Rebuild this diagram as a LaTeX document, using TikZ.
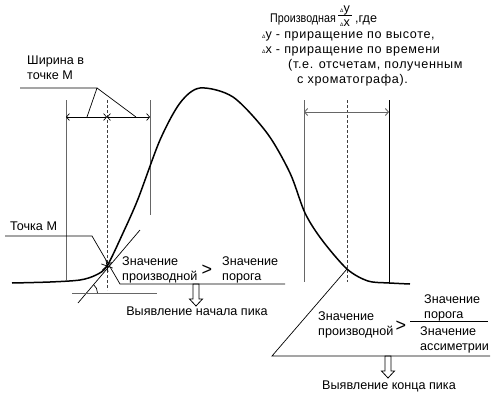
\documentclass[tikz,border=0pt]{standalone}
\usepackage{fontspec}
\setmainfont{Liberation Sans}
\usetikzlibrary{arrows.meta,positioning}

\begin{document}
\begin{tikzpicture}[x=1pt,y=-1pt,>={Straight Barb[length=3pt,width=7pt]},
  every node/.style={inner sep=0pt,font=\fontsize{12.6}{15}\selectfont},
  txt/.style={anchor=north west,align=left},
  note/.style={anchor=base west,font=\fontsize{12.6}{15}\selectfont\addfontfeature{LetterSpace=5}},
  guide/.style={black!60,line width=0.9pt},
  axisline/.style={black!75,line width=0.8pt,dashed,dash pattern=on 3pt off 2pt},
  peak/.style={line width=1.5pt},
  thin/.style={line width=0.7pt},
  gt/.style={font=\fontsize{18}{18}\selectfont},
  hollowdown/.pic={
    \draw[line width=0.8pt] (-3,0) -- (-3,15) -- (-6.5,15) -- (0,22)
      -- (6.5,15) -- (3,15) -- (3,0) -- cycle;
  }]
  \useasboundingbox (0,0) rectangle (491,399);
  \coordinate (M) at (107,266);
  \coordinate (E) at (347,269);
  % vertical guides
  \foreach \n/\x/\y in {la/66/280,lm/107/290,lb/150/215,ra/304/282,rm/347/282,rb/389/284}{
    \coordinate (\n1) at (\x,100); \coordinate (\n2) at (\x,\y);
  }
  \draw[guide] (la1) -- (la2);
  \draw[guide] (lb1) -- (lb2);
  \draw[guide] (ra1) -- (ra2);
  \draw[thin] (rb1) -- (rb2);
  \draw[axisline] (lm1) -- (lm2);
  \draw[axisline] (rm1) -- (rm2);
  % peak
  \draw[peak] plot[smooth] coordinates {(12,283) (50,282) (80,280) (96,275) (M)
    (123,233) (138,199) (160,140) (180,103) (200,88) (233,97) (267,133)
    (290,173) (305,213) (322,240) (E) (368,281) (390,283) (410,284)};
  % width at point M
  \coordinate (wa) at (66,117);
  \coordinate (wm) at (107,117);
  \coordinate (wb) at (150,117);
  \draw[<->,thin] (wa) -- (wm);
  \draw[<->,thin] (wm) -- (wb);
  \node[txt] (width) at (27,56) {Ширина в\\точке М};
  \coordinate (wu) at (20,88);
  \coordinate (wk) at (97,88);
  \coordinate (wk1) at (87,117);
  \coordinate (wk2) at (136,117);
  \draw[thin] (wu) -- (wk) -- (wk1);
  \draw[thin] (wk) -- (wk2);
  % point M
  \node[txt] (pm) at (10,222) {Точка М};
  \coordinate (pu) at (5,236);
  \coordinate (pk) at (92,236);
  \coordinate (pb) at (120,284);
  \coordinate (pe) at (285,284);
  \draw[thin] (pu) -- (pk) -- (pb) -- (pe);
  \foreach \a in {20,80,140}
    \draw[thin] (M) ++(\a:6) -- ++(\a+180:12);
  \coordinate (t1) at (78,303);
  \coordinate (t2) at (140,230);
  \coordinate (h0) at (86.5,293);
  \coordinate (h1) at (72,293);
  \coordinate (h2) at (157,293);
  \draw[thin] (t1) -- (t2);
  \draw[guide] (h1) -- (h2);
  \draw[thin] (h0) ++(11,0) arc[start angle=0,end angle=-50,radius=11];
  \node[txt] (dv1) at (122,257) {Значение\\производной};
  \node[gt] (gt1) at (207,270) {>};
  \node[txt] (th1) at (222,257) {Значение\\порога};
  \pic (go1) at (196,284) {hollowdown};
  \node (start) at (197,311) {Выявление начала пика};
  % derivative
  \node[anchor=base west] (deriv) at (270,22) {\scalebox{0.85}[1]{Производная}};
  \node[anchor=base] (num) at (345,12) {{\tiny Δ}y};
  \node[anchor=base] (den) at (345,26.5) {{\tiny Δ}x};
  \coordinate (fl) at (338,15.5);
  \coordinate (fr) at (352,15.5);
  \draw[line width=0.6pt] (fl) -- (fr);
  \node[anchor=base west] (where) at (355,22) {,где};
  \node[note] (dy) at (262,38) {{\tiny Δ}y - приращение по высоте,};
  \node[note] (dx) at (262,53) {{\tiny Δ}x - приращение по времени};
  \node[note] (n1) at (288,68) {(т.е. отсчетам, полученным};
  \node[note] (n2) at (297,83) {с хроматографа).};
  \coordinate (da) at (304,112);
  \coordinate (db) at (389,112);
  \draw[<->,guide] (da) -- (db);
  % end of peak
  \coordinate (tl) at (272,356);
  \coordinate (tr) at (490,356);
  \draw[thin] (E) -- (tl) -- (tr);
  \node[txt] (dv2) at (318,312) {Значение\\производной};
  \node[gt] (gt2) at (401,326) {>};
  \node[txt] (th2) at (424,295) {Значение\\порога};
  \coordinate (fa) at (410,321);
  \coordinate (fb) at (488,321);
  \draw[thin] (fa) -- (fb);
  \node[txt] (as2) at (420,327) {Значение\\ассиметрии};
  \pic (go2) at (388,356) {hollowdown};
  \node (end) at (389,386) {Выявление конца пика};
\end{tikzpicture}
\end{document}
